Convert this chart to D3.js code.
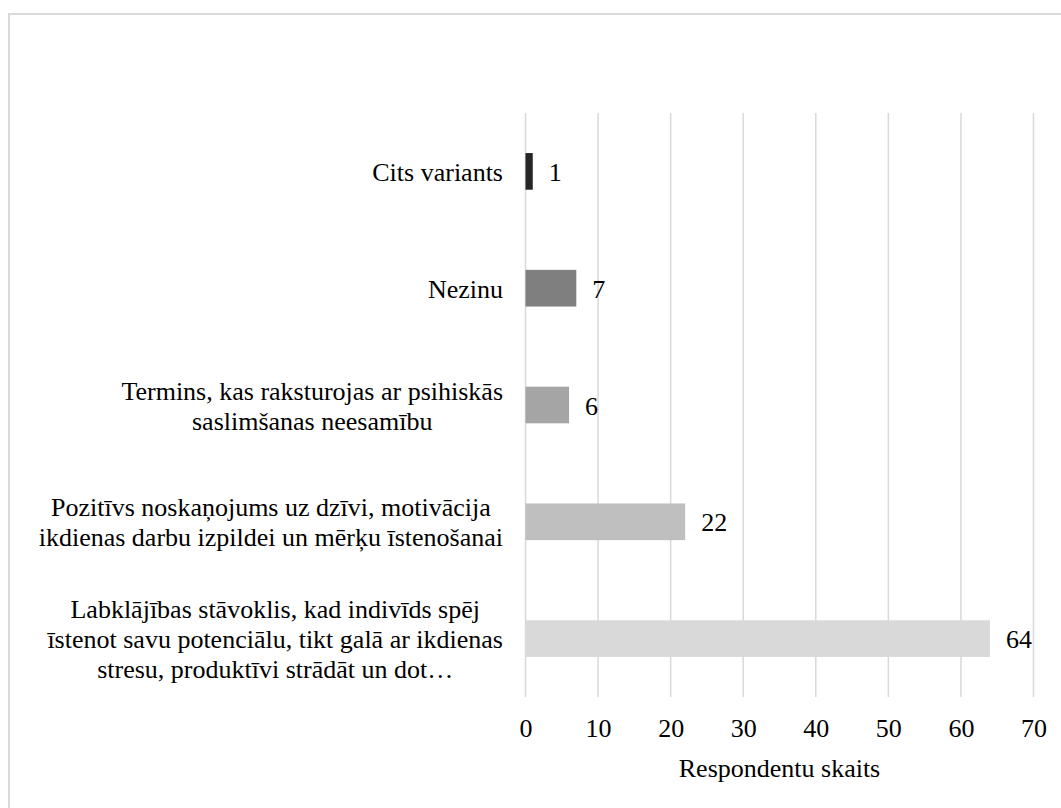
<!DOCTYPE html>
<meta charset="utf-8">
<body style="margin:0">
  <div class="chart"></div>
  <script src="https://cdn.jsdelivr.net/npm/d3@7"></script>
  <script>
    // categories, top to bottom, as wrapped label lines
    var categories = [
      ["Cits variants"],
      ["Nezinu"],
      ["Termins, kas raksturojas ar psihiskās", "saslimšanas neesamību"],
      ["Pozitīvs noskaņojums uz dzīvi, motivācija", "ikdienas darbu izpildei un mērķu īstenošanai"],
      ["Labklājības stāvoklis, kad indivīds spēj", "īstenot savu potenciālu, tikt galā ar ikdienas", "stresu, produktīvi strādāt un dot…"]
    ];
    var values = [1, 7, 6, 22, 64];
    var barColors = ["#262626", "#7f7f7f", "#a5a5a5", "#bfbfbf", "#d9d9d9"];
    var xTicks = [0, 10, 20, 30, 40, 50, 60, 70];
    var xTitle = "Respondentu skaits";

    var W = 1061, H = 808;
    var margin = { top: 113, left: 525.5, right: 1061 - 1033.5, bottom: 808 - 697 };
    var width = W - margin.left - margin.right,
        height = H - margin.top - margin.bottom;

    // text uses the page default face (Times metric serif)
    function txt(sel) {
      return sel.attr("font-size", 26).attr("fill", "#000");
    }

    var svg = d3.select(".chart").append("svg")
        .attr("width", W)
        .attr("height", H);

    // outer chart border
    svg.append("rect")
        .attr("x", 9).attr("y", 14)
        .attr("width", W + 20).attr("height", H + 20)
        .attr("fill", "none")
        .attr("stroke", "#d9d9d9")
        .attr("stroke-width", 2);

    var g = svg.append("g")
        .attr("transform", "translate(" + margin.left + "," + margin.top + ")");

    var x = d3.scaleLinear().domain([0, 70]).range([0, width]);
    var y = d3.scaleBand()
        .domain(d3.range(categories.length))
        .range([0, height])
        .paddingInner(0.686)
        .paddingOuter(0.343);

    // gridlines
    g.selectAll(".grid")
        .data(xTicks)
      .enter().append("line")
        .attr("class", "grid")
        .attr("x1", function(d) { return x(d); })
        .attr("x2", function(d) { return x(d); })
        .attr("y1", 0)
        .attr("y2", height)
        .attr("stroke", "#d9d9d9")
        .attr("stroke-width", 1.5);

    // x axis labels
    var xAxis = d3.axisBottom(x).tickValues(xTicks).tickSize(0).tickPadding(0);
    var ax = g.append("g")
        .attr("transform", "translate(0," + height + ")")
        .call(xAxis)
        .attr("font-family", null)
        .attr("font-size", null);
    ax.select(".domain").remove();
    txt(ax.selectAll("text"))
        .attr("y", 40)
        .attr("dy", 0);

    txt(svg.append("text"))
        .attr("x", margin.left + width / 2)
        .attr("y", 777)
        .attr("text-anchor", "middle")
        .text(xTitle);

    // bars
    g.selectAll(".bar")
        .data(values)
      .enter().append("rect")
        .attr("class", "bar")
        .attr("x", 0)
        .attr("y", function(d, i) { return y(i); })
        .attr("width", function(d) { return x(d); })
        .attr("height", y.bandwidth())
        .attr("fill", function(d, i) { return barColors[i]; });

    // value labels
    txt(g.selectAll(".val")
        .data(values)
      .enter().append("text"))
        .attr("class", "val")
        .attr("x", function(d) { return x(d) + 16; })
        .attr("y", function(d, i) { return y(i) + y.bandwidth() / 2 + 9.5; })
        .text(function(d) { return d; });

    // category labels, centred lines in a right-aligned block
    var lineH = 30;
    categories.forEach(function(lines, i) {
      var cy = margin.top + y(i) + y.bandwidth() / 2;
      var texts = txt(svg.append("g").selectAll("text")
          .data(lines)
        .enter().append("text"))
          .attr("text-anchor", "middle")
          .attr("y", function(d, j) { return cy + (j - (lines.length - 1) / 2) * lineH + 9.5; })
          .text(function(d) { return d; });
      var maxW = 0;
      texts.each(function() { maxW = Math.max(maxW, this.getComputedTextLength()); });
      texts.attr("x", 503 - maxW / 2);
    });
  </script>
</body>
